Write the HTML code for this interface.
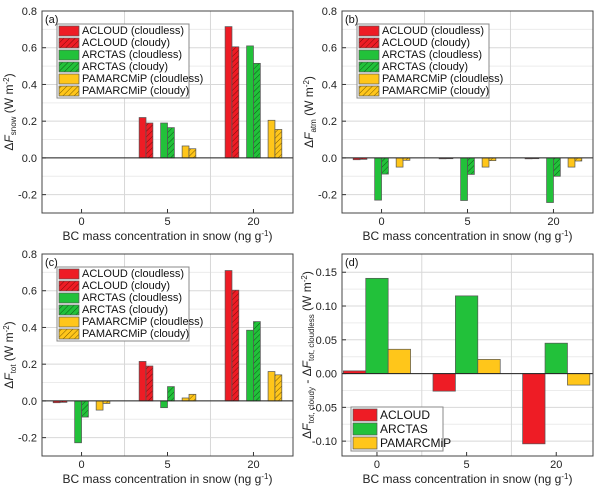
<!DOCTYPE html>
<html><head><meta charset="utf-8">
<style>
html,body{margin:0;padding:0;background:#fff;}
svg{display:block;font-family:"Liberation Sans",Arial,sans-serif;}
</style></head>
<body>
<svg id="chart" width="600" height="493" viewBox="0 0 600 493" xmlns="http://www.w3.org/2000/svg">
<defs>
<pattern id="hatch-red" patternUnits="userSpaceOnUse" width="4" height="4" patternTransform="rotate(45)"><rect width="4" height="4" fill="#ee1c25"/><line x1="0" y1="0" x2="0" y2="4" stroke="#7a0a0a" stroke-width="1"/></pattern>
<pattern id="hatch-green" patternUnits="userSpaceOnUse" width="4" height="4" patternTransform="rotate(45)"><rect width="4" height="4" fill="#22c13a"/><line x1="0" y1="0" x2="0" y2="4" stroke="#0c5a16" stroke-width="1"/></pattern>
<pattern id="hatch-yellow" patternUnits="userSpaceOnUse" width="4" height="4" patternTransform="rotate(45)"><rect width="4" height="4" fill="#ffc61a"/><line x1="0" y1="0" x2="0" y2="4" stroke="#7a5a00" stroke-width="1"/></pattern>
</defs>
</svg>
<script>
// ---- data ----
const categories = ["0","5","20"];
const seriesNames6 = ["ACLOUD (cloudless)","ACLOUD (cloudy)","ARCTAS (cloudless)","ARCTAS (cloudy)","PAMARCMiP (cloudless)","PAMARCMiP (cloudy)"];
const seriesNames3 = ["ACLOUD","ARCTAS","PAMARCMiP"];
const yTicksABC = [-0.2,0.0,0.2,0.4,0.6,0.8];
const yTicksD = [-0.10,-0.05,0.00,0.05,0.10,0.15];
// panel a: snow
const snowAcloudClear = [0, 0.22, 0.715];
const snowAcloudCloudy = [0, 0.19, 0.605];
const snowArctasClear = [0, 0.19, 0.61];
const snowArctasCloudy = [0, 0.165, 0.515];
const snowPamClear = [0, 0.065, 0.205];
const snowPamCloudy = [0, 0.05, 0.155];
// panel b: atm
const atmAcloudClear = [-0.01, -0.005, -0.005];
const atmAcloudCloudy = [-0.008, -0.004, -0.004];
const atmArctasClear = [-0.23, -0.232, -0.243];
const atmArctasCloudy = [-0.088, -0.09, -0.1];
const atmPamClear = [-0.05, -0.05, -0.05];
const atmPamCloudy = [-0.013, -0.015, -0.017];
// panel c: tot
const totAcloudClear = [-0.01, 0.215, 0.71];
const totAcloudCloudy = [-0.008, 0.19, 0.603];
const totArctasClear = [-0.228, -0.037, 0.385];
const totArctasCloudy = [-0.088, 0.078, 0.432];
const totPamClear = [-0.05, 0.016, 0.16];
const totPamCloudy = [-0.014, 0.036, 0.142];
// panel d: difference
const diffAcloud = [0.004, -0.026, -0.104];
const diffArctas = [0.141, 0.115, 0.045];
const diffPam = [0.036, 0.021, -0.017];

const svg = document.getElementById('chart');
const NS = "http://www.w3.org/2000/svg";
function mk(tag, attrs, parent){const e=document.createElementNS(NS,tag);for(const k in attrs)e.setAttribute(k,attrs[k]);(parent||svg).appendChild(e);return e;}
const fills = ["#ee1c25","url(#hatch-red)","#22c13a","url(#hatch-green)","#ffc61a","url(#hatch-yellow)"];
const fills3 = ["#ee1c25","#22c13a","#ffc61a"];

function panel(p){
  const g = mk('g',{});
  
  
  const L=p.x0, R=p.x1, T=p.y0, B=p.y1;
  const ys = v => T + (p.ymax - v)/(p.ymax - p.ymin)*(B-T);
  const xs = c => L + (c - p.xmin)/(p.xmax - p.xmin)*(R-L);
  for(let i=0;i<p.ticks.length-1;i++){
    const m=(p.ticks[i]+p.ticks[i+1])/2;
    const l=mk('line',{x1:L,x2:R,y1:ys(m),y2:ys(m),stroke:'#ececec','stroke-width':1},g);
    
    
  }
  p.ticks.forEach(t=>{
    const l=mk('line',{x1:L,x2:R,y1:ys(t),y2:ys(t),stroke:'#d8d8d8','stroke-width':1},g);
    
    
    const tx=mk('text',{x:L-5,y:ys(t)+4,'font-size':11,'text-anchor':'end',fill:'#222'},g);
    tx.textContent = t.toFixed(p.dec);
    
    
    const tk=mk('line',{x1:L,x2:L+4,y1:ys(t),y2:ys(t),stroke:'#333'},g);
    
    
  });
  for(let i=0;i<categories.length-1;i++){
    const x=xs(i+0.5);
    const l=mk('line',{x1:x,x2:x,y1:T,y2:B,stroke:'#d8d8d8'},g);
    
    
  }
  categories.forEach((c,i)=>{
    const tx=mk('text',{x:xs(i),y:B+12,'font-size':11,'text-anchor':'middle',fill:'#222'},g);
    tx.textContent=c;
    
    
    const tk=mk('line',{x1:xs(i),x2:xs(i),y1:B,y2:B-4,stroke:'#333'},g);
    
    
  });
  p.series.forEach((vals,s)=>{
    vals.forEach((v,i)=>{
      const c = i + p.offsets[s];
      const xa = xs(c - p.bw/2), xb = xs(c + p.bw/2);
      const y0=ys(0), y1=ys(v);
      const h = v===0 ? 0 : Math.max(Math.abs(y1-y0),0.8);
      const r=mk('rect',{x:xa,y:Math.min(y0,y1),width:xb-xa,height:h,fill:p.fills[s],stroke:v===0?'none':'#555','stroke-width':0.7},g);
      
      
    });
  });
  const z=mk('line',{x1:L,x2:R,y1:ys(0),y2:ys(0),stroke:'#222','stroke-width':1},g);
  
  
  const fr=mk('rect',{x:L,y:T,width:R-L,height:B-T,fill:'none',stroke:'#444','stroke-width':1},g);
  
  
  const lab=mk('text',{x:L+3,y:T+12,'font-size':11,fill:'#111'},g);
  lab.textContent=p.label;
  
  
  const xt=mk('text',{x:(L+R)/2,y:B+27,'font-size':12,'text-anchor':'middle',fill:'#222'},g);
  xt.innerHTML='BC mass concentration in snow (ng g<tspan dy="-4" font-size="8">-1</tspan><tspan dy="4">)</tspan>';
  
  
  const yt=mk('text',{transform:`translate(${p.ytx},${(T+B)/2}) rotate(-90)`,'font-size':12,'text-anchor':'middle',fill:'#222'},g);
  yt.innerHTML=p.ytitle;
  
  
  const lg=mk('g',{},g);
  
  
  mk('rect',{x:p.lx,y:p.ly,width:p.lw,height:p.rowh*p.snames.length+2,fill:'#fff',stroke:'#888'},lg);
  p.snames.forEach((n,s)=>{
    const e=mk('g',{},lg);
    
    
    mk('rect',{x:p.lx+2,y:p.ly+2+s*p.rowh,width:p.sw,height:p.rowh-2,fill:p.fills[s],stroke:'#555','stroke-width':0.7},e);
    const t=mk('text',{x:p.lx+p.sw+5,y:p.ly+p.rowh*(s+1)-2,'font-size':p.lfs,fill:'#111'},e);
    t.textContent=n;
  });
}
const off6=[-0.29,-0.21,-0.04,0.04,0.21,0.29], bw6=0.08;
const common6 = {xmin:-0.46,xmax:2.46,ymin:-0.3,ymax:0.8,ticks:yTicksABC,dec:1,offsets:off6,bw:bw6,fills:fills,snames:seriesNames6,lw:132,rowh:12,sw:20,lfs:11};
panel(Object.assign({},common6,{name:'panel-a-snow',x0:42,x1:293,y0:11,y1:213,label:'(a)',ytx:13,lx:57,ly:24,
  ytitle:'Δ<tspan font-style="italic">F</tspan><tspan dy="3" font-size="8">snow</tspan><tspan dy="-3"> (W m</tspan><tspan dy="-4" font-size="8">-2</tspan><tspan dy="4">)</tspan>',
  series:[snowAcloudClear,snowAcloudCloudy,snowArctasClear,snowArctasCloudy,snowPamClear,snowPamCloudy]}));
panel(Object.assign({},common6,{name:'panel-b-atm',x0:342,x1:593,y0:11,y1:213,label:'(b)',ytx:313,lx:357,ly:24,
  ytitle:'Δ<tspan font-style="italic">F</tspan><tspan dy="3" font-size="8">atm</tspan><tspan dy="-3"> (W m</tspan><tspan dy="-4" font-size="8">-2</tspan><tspan dy="4">)</tspan>',
  series:[atmAcloudClear,atmAcloudCloudy,atmArctasClear,atmArctasCloudy,atmPamClear,atmPamCloudy]}));
panel(Object.assign({},common6,{name:'panel-c-tot',x0:42,x1:293,y0:254,y1:456,label:'(c)',ytx:13,lx:57,ly:267,
  ytitle:'Δ<tspan font-style="italic">F</tspan><tspan dy="3" font-size="8">tot</tspan><tspan dy="-3"> (W m</tspan><tspan dy="-4" font-size="8">-2</tspan><tspan dy="4">)</tspan>',
  series:[totAcloudClear,totAcloudCloudy,totArctasClear,totArctasCloudy,totPamClear,totPamCloudy]}));
panel({name:'panel-d-diff',x0:342,x1:593,y0:254,y1:456,xmin:-0.39,xmax:2.41,ymin:-0.122,ymax:0.177,ticks:yTicksD,dec:2,
  offsets:[-0.25,0,0.25],bw:0.25,fills:fills3,snames:seriesNames3,label:'(d)',ytx:311,lx:351,ly:407,lw:92,rowh:14,sw:24,lfs:12,
  ytitle:'Δ<tspan font-style="italic">F</tspan><tspan dy="3" font-size="8">tot, cloudy</tspan><tspan dy="-3"> - Δ</tspan><tspan font-style="italic">F</tspan><tspan dy="3" font-size="8">tot, cloudless</tspan><tspan dy="-3"> (W m</tspan><tspan dy="-4" font-size="8">-2</tspan><tspan dy="4">)</tspan>',
  series:[diffAcloud,diffArctas,diffPam]});
</script>
</body></html>
